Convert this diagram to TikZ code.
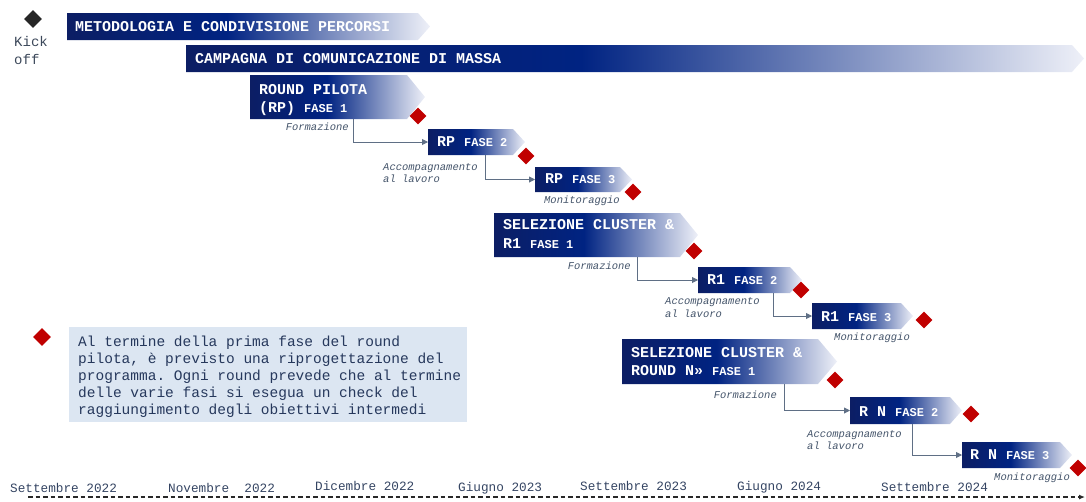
\documentclass[tikz,border=0pt]{standalone}
\usepackage{fontspec}
\setmonofont{Liberation Mono}
\usetikzlibrary{shapes.geometric,arrows.meta,fit}
\definecolor{bardark}{RGB}{12,30,100}
\definecolor{barmid}{RGB}{0,35,130}
\definecolor{barlight}{RGB}{238,240,248}
\definecolor{mkred}{RGB}{192,0,0}
\definecolor{kickblack}{RGB}{38,38,38}
\definecolor{kickcol}{RGB}{60,72,90}
\definecolor{lblgray}{RGB}{68,84,106}
\definecolor{datecol}{RGB}{52,68,98}
\definecolor{notecol}{RGB}{38,56,92}
\definecolor{notefill}{RGB}{220,230,242}
\definecolor{conncol}{RGB}{95,111,133}
\definecolor{tlcol}{RGB}{40,40,40}
\pgfdeclarehorizontalshading{barfade}{100bp}{color(0bp)=(bardark); color(25bp)=(bardark); color(47bp)=(barmid); color(75bp)=(barlight); color(100bp)=(barlight)}
\tikzset{
  bartext/.style={anchor=base west, inner sep=0, text=white, font=\ttfamily\bfseries\fontsize{15}{17}\selectfont},
  lbl/.style={anchor=base west, inner sep=0, text=lblgray, font=\ttfamily\itshape\fontsize{10.5}{12}\selectfont},
  lblr/.style={lbl, anchor=base east},
  datelbl/.style={anchor=base west, inner sep=0, text=datecol, font=\ttfamily\fontsize{12.7}{14}\selectfont},
  milestone/.style={diamond, fill=mkred, inner sep=0, minimum width=17pt, minimum height=17pt},
  conn/.style={draw=conncol, line width=0.9pt, -{Triangle[length=6pt,width=6pt]}},
  boxfit/.style={inner sep=0, outer sep=0},
}
\newcommand\fase[1]{{\fontsize{12}{14}\selectfont FASE #1}}
\newcommand\phasebox[6]{%
  \shade[shading=barfade] (#2,#3) -- (#4,#3) -- (#6,{(#3+#5)/2}) -- (#4,#5) -- (#2,#5) -- cycle;
  \node[boxfit, fit={(#2,#3) (#4,#5)}] (#1) {};}
\begin{document}
\begin{tikzpicture}[x=1pt,y=-1pt]
\useasboundingbox (0,0) rectangle (1086,501);

% kick off
\node[milestone, fill=kickblack, minimum width=18pt, minimum height=18pt] (kick) at (33,19) {};
\node[anchor=base west, inner sep=0, text=kickcol, font=\ttfamily\fontsize{14}{18}\selectfont] (kickt1) at (14,46) {Kick};
\node[anchor=base west, inner sep=0, text=kickcol, font=\ttfamily\fontsize{14}{18}\selectfont] (kickt2) at (14,64) {off};

% long bars
\phasebox{bar1}{67}{13}{418}{40}{430}
\node[bartext] (bar1t) at (75,31.5) {METODOLOGIA E CONDIVISIONE PERCORSI};
\phasebox{bar2}{186}{45}{1072}{72}{1084}
\node[bartext] (bar2t) at (195,63.5) {CAMPAGNA DI COMUNICAZIONE DI MASSA};

% round pilota
\phasebox{rp1}{250}{75}{407}{119}{425}
\node[bartext] (rp1a) at (259,94) {ROUND PILOTA};
\node[bartext] (rp1b) at (259,112) {(RP) \fase{1}};
\node[milestone] (rp1m) at (418,116) {};
\node[lblr] (rp1l) at (349,130) {Formazione};
\phasebox{rp2}{428}{129}{513}{155}{525}
\node[bartext] (rp2a) at (437,146) {RP \fase{2}};
\node[milestone] (rp2m) at (526,156) {};
\draw[conn] ([xshift=103pt]rp1.south west) |- (rp2.west);
\node[lbl] (rp2l1) at (383,170) {Accompagnamento};
\node[lbl] (rp2l2) at (383,182) {al lavoro};
\phasebox{rp3}{535}{167}{620}{192}{632}
\node[bartext] (rp3a) at (545,183) {RP \fase{3}};
\node[milestone] (rp3m) at (633,192) {};
\draw[conn] ([xshift=57pt]rp2.south west) |- (rp3.west);
\node[lblr] (rp3l) at (620,203) {Monitoraggio};

% round 1
\phasebox{sel1}{494}{213}{680}{257}{698}
\node[bartext] (sel1a) at (503,229) {SELEZIONE CLUSTER \&};
\node[bartext] (sel1b) at (503,248) {R1 \fase{1}};
\node[milestone] (sel1m) at (694,251) {};
\node[lblr] (sel1l) at (631,269) {Formazione};
\phasebox{r1f2}{698}{267}{790}{293}{802}
\node[bartext] (r1f2a) at (707,284) {R1 \fase{2}};
\node[milestone] (r1f2m) at (801,290) {};
\draw[conn] ([xshift=143pt]sel1.south west) |- (r1f2.west);
\node[lbl] (r1f2l1) at (665,304) {Accompagnamento};
\node[lbl] (r1f2l2) at (665,317) {al lavoro};
\phasebox{r1f3}{812}{303}{901}{329}{913}
\node[bartext] (r1f3a) at (821,321) {R1 \fase{3}};
\node[milestone] (r1f3m) at (924,320) {};
\draw[conn] ([xshift=75pt]r1f2.south west) |- (r1f3.west);
\node[lblr] (r1f3l) at (910,340) {Monitoraggio};

% round N
\phasebox{seln}{622}{339}{818}{384}{837}
\node[bartext] (selna) at (631,357) {SELEZIONE CLUSTER \&};
\node[bartext] (selnb) at (631,375) {ROUND N» \fase{1}};
\node[milestone] (selnm) at (835,380) {};
\node[lblr] (selnl) at (777,398) {Formazione};
\phasebox{rnf2}{850}{397}{950}{424}{962}
\node[bartext] (rnf2a) at (859,416) {R N \fase{2}};
\node[milestone] (rnf2m) at (971,414) {};
\draw[conn] ([xshift=162pt]seln.south west) |- (rnf2.west);
\node[lbl] (rnf2l1) at (807,437) {Accompagnamento};
\node[lbl] (rnf2l2) at (807,449) {al lavoro};
\phasebox{rnf3}{962}{442}{1060}{468}{1072}
\node[bartext] (rnf3a) at (970,459) {R N \fase{3}};
\node[milestone] (rnf3m) at (1078,468) {};
\draw[conn] ([xshift=62pt]rnf2.south west) |- (rnf3.west);
\node[lblr] (rnf3l) at (1070,480) {Monitoraggio};

% note
\node[fill=notefill, minimum width=398pt, minimum height=95pt, anchor=north west, inner sep=0] (notebox) at (69,327) {};
\node[anchor=north west, inner sep=0, align=left, text=notecol, font=\ttfamily\fontsize{14.5}{17}\selectfont] (notet) at (78,336) {Al termine della prima fase del round\\pilota, è previsto una riprogettazione del\\programma. Ogni round prevede che al termine\\delle varie fasi si esegua un check del\\raggiungimento degli obiettivi intermedi};
\node[milestone, minimum width=18pt, minimum height=18pt] (legm) at (42,337) {};

% timeline
\node[datelbl] (d1) at (10,492) {Settembre 2022};
\node[datelbl] (d2) at (168,492) {Novembre~~2022};
\node[datelbl] (d3) at (315,490) {Dicembre 2022};
\node[datelbl] (d4) at (458,491) {Giugno 2023};
\node[datelbl] (d5) at (580,490) {Settembre 2023};
\node[datelbl] (d6) at (737,490) {Giugno 2024};
\node[datelbl] (d7) at (881,491) {Settembre 2024};
\coordinate (tl0) at (28,497);
\coordinate (tl1) at (1085,497);
\draw[draw=tlcol, line width=1.4pt, dash pattern=on 4.5pt off 3pt, -{Latex[length=6pt,width=5pt]}] (tl0) -- (tl1);
\end{tikzpicture}
\end{document}
